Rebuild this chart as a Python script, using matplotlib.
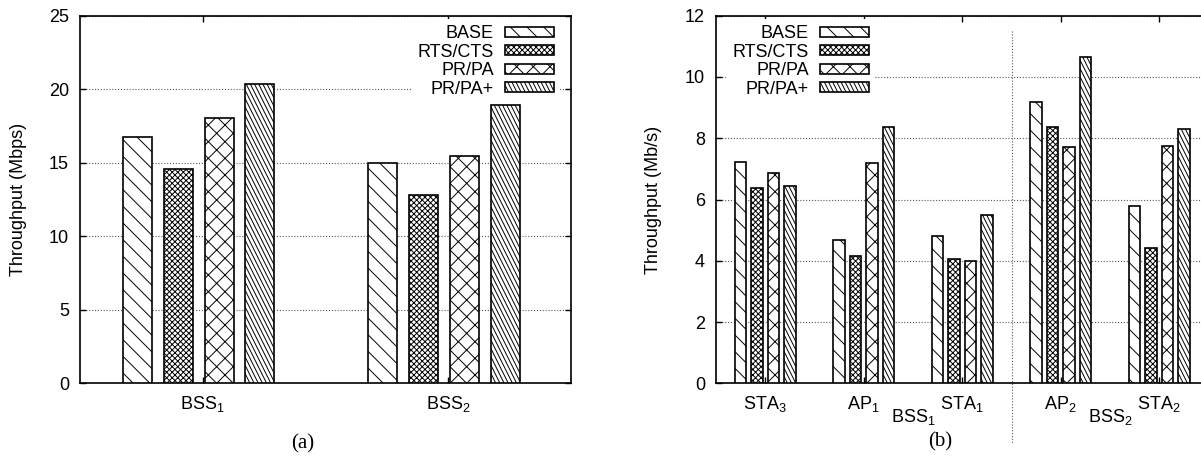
import matplotlib
matplotlib.use('Agg')
import matplotlib.pyplot as plt
import matplotlib.hatch as mhatch
from matplotlib.path import Path
import numpy as np

# ---------------- data ----------------
series = ['BASE', 'RTS/CTS', 'PR/PA', 'PR/PA+']

cats_a = [r'BSS$_{\mathrm{1}}$', r'BSS$_{\mathrm{2}}$']
base_a = [16.76, 14.99]
rts_a = [14.58, 12.78]
prpa_a = [18.07, 15.48]
prpap_a = [20.35, 18.91]

cats_b = [r'STA$_{\mathrm{3}}$', r'AP$_{\mathrm{1}}$', r'STA$_{\mathrm{1}}$',
          r'AP$_{\mathrm{2}}$', r'STA$_{\mathrm{2}}$']
base_b = [7.21, 4.67, 4.81, 9.19, 5.80]
rts_b = [6.37, 4.16, 4.07, 8.36, 4.41]
prpa_b = [6.86, 7.20, 4.00, 7.71, 7.76]
prpap_b = [6.45, 8.38, 5.50, 10.64, 8.29]

groups_b = [r'BSS$_{\mathrm{1}}$', r'BSS$_{\mathrm{2}}$']

# ---------------- style ----------------
plt.rcParams['font.family'] = ['Liberation Sans', 'DejaVu Sans']
plt.rcParams['mathtext.fontset'] = 'custom'
plt.rcParams['mathtext.rm'] = 'Liberation Sans'
plt.rcParams['mathtext.it'] = 'Liberation Sans:italic'
plt.rcParams['mathtext.bf'] = 'Liberation Sans:bold'
plt.rcParams['hatch.linewidth'] = 0.7
FS = 13

STEEP = '|\\'
_orig_get_path = mhatch.get_path


def _steep_path(n=24, d=0.5):
    verts, codes = [], []
    for k in range(-2, int(n * (1 + d)) + 3):
        c = k / n
        verts += [(c, 0.0), (c - d, 1.0)]
        codes += [Path.MOVETO, Path.LINETO]
    return Path(np.array(verts), codes)


def _get_path(hatchpattern, density=6):
    if hatchpattern == STEEP:
        return _steep_path()
    return _orig_get_path(hatchpattern, density)


mhatch.get_path = _get_path

hatches = ['\\\\', 'xxxxxx', 'xx', STEEP]

W, H = 1201, 457
fig = plt.figure(figsize=(W / 100, H / 100), dpi=100)


def px_axes(l, r, t, b):
    return fig.add_axes([l / W, (H - b) / H, (r - l) / W, (b - t) / H])


grid_kw = dict(linestyle=(0, (1, 1.6)), color='0.35', linewidth=0.8)
leg_kw = dict(bbox_transform=fig.transFigure, fontsize=FS, markerfirst=False,
              frameon=True, fancybox=False, edgecolor='none', framealpha=1,
              handlelength=2.72, handleheight=0.45, handletextpad=0.6,
              labelspacing=0.08, borderpad=0.35, borderaxespad=0)

# ---------------- panel (a) ----------------
ax1 = px_axes(80, 571, 16, 383)
xa = np.arange(len(cats_a))
offs_a = [-0.267, -0.100, 0.067, 0.233]
for vals, off, h, lab in zip([base_a, rts_a, prpa_a, prpap_a], offs_a, hatches, series):
    ax1.bar(xa + off, vals, 0.118, facecolor='white', edgecolor='black',
            linewidth=1.2, hatch=h, label=lab, zorder=3)
ax1.set_xlim(-0.5, 1.5)
ax1.set_ylim(0, 25)
ax1.set_yticks(np.arange(0, 26, 5))
ax1.set_xticks(xa)
ax1.set_xticklabels(cats_a)
ax1.yaxis.grid(True, **grid_kw)
ax1.set_axisbelow(True)
ax1.set_ylabel('Throughput (Mbps)', fontsize=FS)
ax1.yaxis.set_label_coords(-0.108, 0.5)
leg1 = ax1.legend(loc='upper right', bbox_to_anchor=(560 / W, (H - 19) / H), **leg_kw)

# ---------------- panel (b) ----------------
ax2 = px_axes(716, 716 + 98.5 * 5, 15.7, 383.3)
xb = np.arange(len(cats_b))
offs_b = [-0.25, -0.083, 0.083, 0.25]
for vals, off, h, lab in zip([base_b, rts_b, prpa_b, prpap_b], offs_b, hatches, series):
    ax2.bar(xb + off, vals, 0.119, facecolor='white', edgecolor='black',
            linewidth=1.2, hatch=h, label=lab, zorder=3)
ax2.set_xlim(-0.5, 4.5)
ax2.set_ylim(0, 12)
ax2.set_yticks(np.arange(0, 13, 2))
ax2.set_xticks(xb)
ax2.set_xticklabels(cats_b)
ax2.set_xticks([1.5, 3.5], minor=True)
ax2.set_xticklabels(groups_b, minor=True)
ax2.yaxis.grid(True, **grid_kw)
ax2.set_axisbelow(True)
ax2.set_ylabel('Throughput (Mb/s)', fontsize=FS)
ax2.yaxis.set_label_coords(-0.110, 0.5)
ax2.plot([2.5, 2.5], [11.5, -1.95], linestyle=(0, (1, 1.6)), color='0.35',
         linewidth=0.8, clip_on=False, zorder=1)
leg2 = ax2.legend(loc='upper right', bbox_to_anchor=(875 / W, (H - 19) / H), **leg_kw)

for ax in (ax1, ax2):
    for s in ax.spines.values():
        s.set_linewidth(1.2)
    ax.tick_params(axis='both', which='major', direction='in', length=4, width=1,
                   top=True, right=True, labelsize=FS, pad=8)
ax2.tick_params(axis='x', which='minor', length=0, top=False, bottom=False,
                labelsize=FS, pad=17)

fig.text(303 / W, (H - 444) / H, '(a)', family='Liberation Serif', fontsize=15,
         ha='center', va='center')
fig.text(940 / W, (H - 442) / H, '(b)', family='Liberation Serif', fontsize=15,
         ha='center', va='center')

fig.savefig('out.png', dpi=100)
